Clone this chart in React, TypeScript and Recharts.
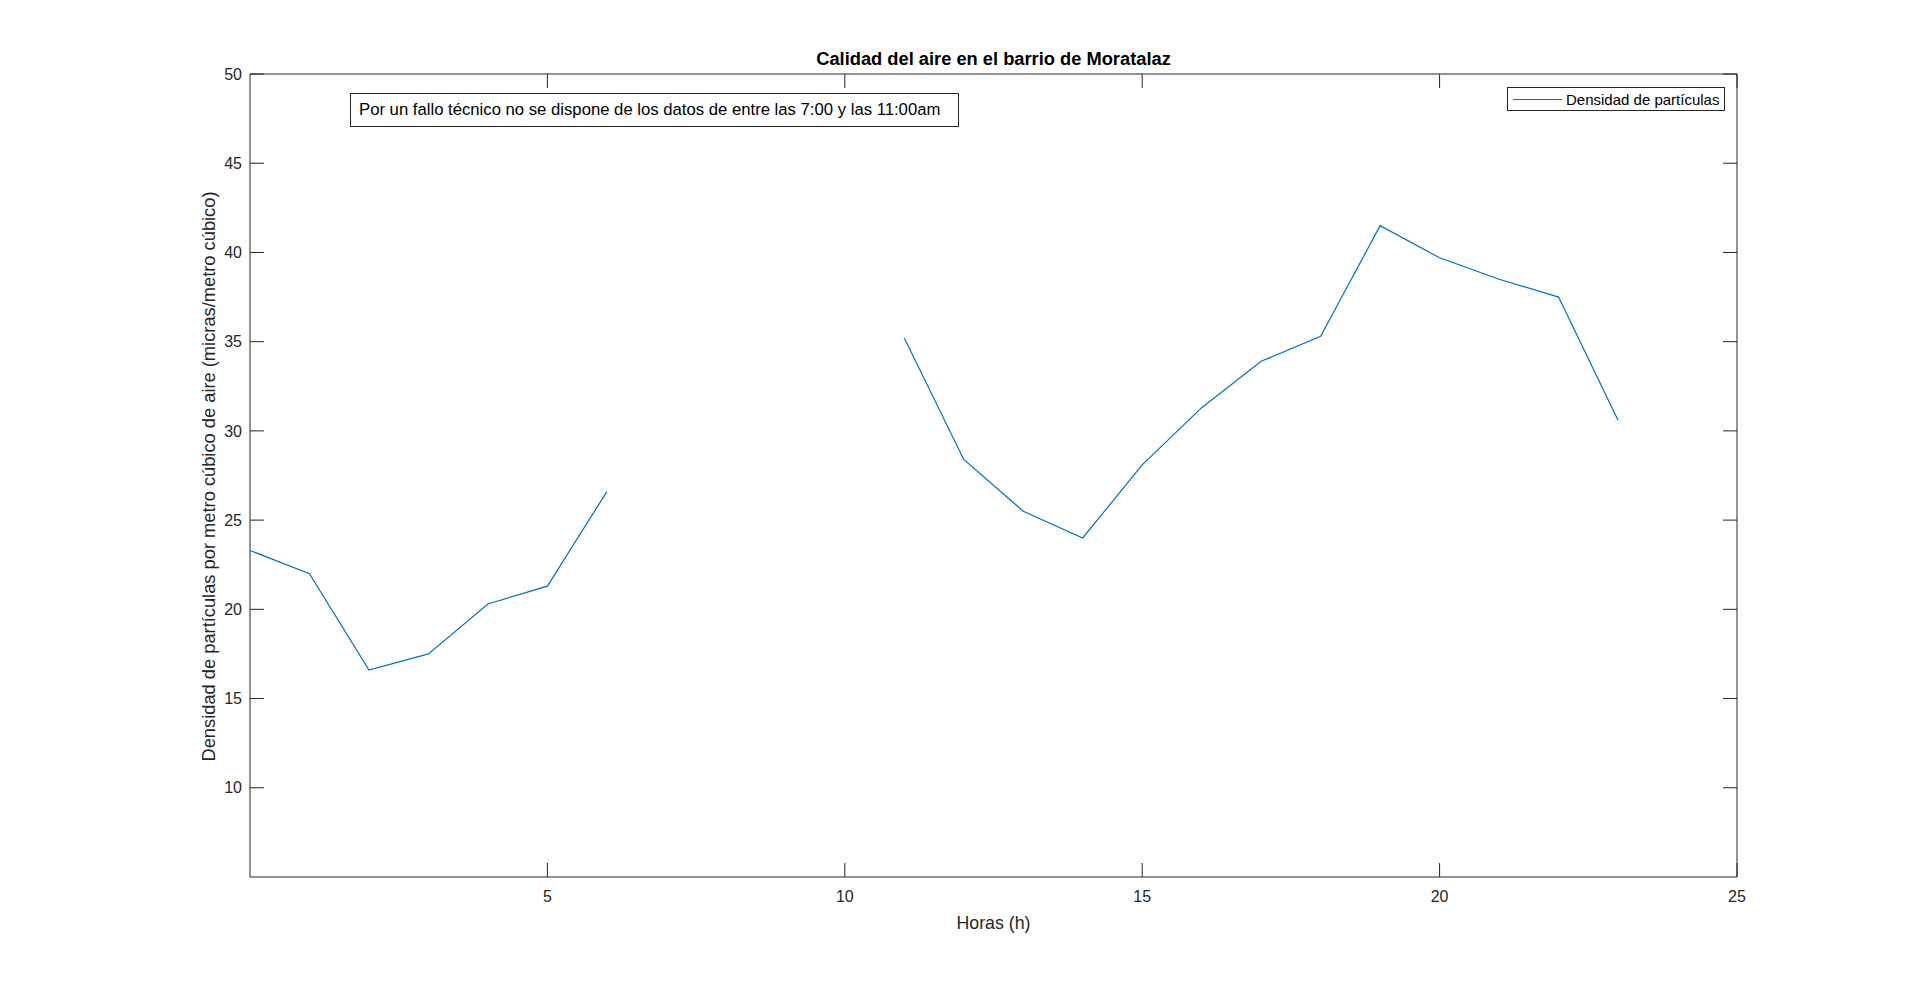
import { LineChart, Line, XAxis, YAxis, Legend } from 'recharts';

// horas del día y densidad medida (null = sin datos por el fallo técnico)
const hours = [0, 1, 2, 3, 4, 5, 6, 7, 8, 9, 10, 11, 12, 13, 14, 15, 16, 17, 18, 19, 20, 21, 22, 23];
const density = [
  23.3, 22.0, 16.6, 17.5, 20.3, 21.3, 26.6, null, null, null, null,
  35.2, 28.4, 25.5, 24.0, 28.1, 31.3, 33.9, 35.3, 41.5, 39.7, 38.5, 37.5, 30.6,
];
const xTicks = [5, 10, 15, 20, 25];
const yTicks = [10, 15, 20, 25, 30, 35, 40, 45, 50];

const title = 'Calidad del aire en el barrio de Moratalaz';
const xLabel = 'Horas (h)';
const yLabel = 'Densidad de partículas por metro cúbico de aire (micras/metro cúbico)';
const seriesName = 'Densidad de partículas';
const note = 'Por un fallo técnico no se dispone de los datos de entre las 7:00 y las 11:00am';

const data = hours.map((h, i) => ({ hora: h, densidad: density[i] }));

const AXIS = '#262626';
const BLUE = '#0072BD';

const emptyTick = () => <g />;

// etiqueta vertical del eje Y
const renderYLabel = (props: any) => {
  const { x, y, width, height } = props.viewBox;
  const cx = x + width / 2;
  const cy = y + height / 2 + 1;
  return (
    <text
      x={cx}
      y={cy}
      transform={`rotate(-90, ${cx}, ${cy})`}
      textAnchor="middle"
      dominantBaseline="central"
      fontSize={18.3}
      fill={AXIS}
    >
      {yLabel}
    </text>
  );
};

function LegendBox() {
  return (
    <div
      style={{
        boxSizing: 'border-box',
        width: 218,
        height: 24,
        border: `1px solid ${AXIS}`,
        background: '#fff',
        display: 'flex',
        alignItems: 'center',
        fontSize: 15,
        color: '#000',
      }}
    >
      <span style={{ display: 'inline-block', width: 49, height: 0, borderTop: `1px solid ${BLUE}`, marginLeft: 5, marginRight: 4 }} />
      <span>{seriesName}</span>
    </div>
  );
}

export default function App() {
  return (
    <div
      style={{
        position: 'absolute',
        left: 0,
        top: 0,
        width: 1920,
        height: 986,
        background: '#fff',
        fontFamily: '"Liberation Sans", Arial, Helvetica, sans-serif',
      }}
    >
      <div
        style={{
          position: 'absolute',
          left: 250,
          width: 1487,
          top: 49,
          textAlign: 'center',
          fontSize: 18.3,
          lineHeight: '20px',
          fontWeight: 'bold',
          color: '#000',
        }}
      >
        {title}
      </div>
      <LineChart width={1920} height={986} data={data} margin={{ top: 64, right: 173, bottom: 17, left: 166 }}>
        <XAxis
          dataKey="hora"
          type="number"
          domain={[0, 25]}
          ticks={xTicks}
          allowDataOverflow
          height={92}
          stroke={AXIS}
          tickSize={-14}
          tickMargin={28}
          tick={{ fontSize: 16, fill: AXIS }}
          label={{ value: xLabel, position: 'center', fontSize: 17.8, fill: AXIS }}
        />
        <XAxis
          xAxisId="top"
          orientation="top"
          dataKey="hora"
          type="number"
          domain={[0, 25]}
          ticks={xTicks}
          allowDataOverflow
          height={10}
          stroke={AXIS}
          tickSize={-14}
          tick={emptyTick}
        />
        <YAxis
          type="number"
          domain={[5, 50]}
          ticks={yTicks}
          allowDataOverflow
          width={84}
          stroke={AXIS}
          tickSize={-14}
          tickMargin={22}
          tick={{ fontSize: 16, fill: AXIS }}
          label={renderYLabel}
        />
        <YAxis
          yAxisId="right"
          orientation="right"
          type="number"
          domain={[5, 50]}
          ticks={yTicks}
          allowDataOverflow
          width={10}
          stroke={AXIS}
          tickSize={-14}
          tick={emptyTick}
        />
        <Legend
          layout="horizontal"
          verticalAlign="middle"
          align="center"
          content={() => <LegendBox />}
          wrapperStyle={{ left: 1507, top: 87, width: 218, height: 24 }}
        />
        <Line
          type="linear"
          dataKey="densidad"
          name={seriesName}
          stroke={BLUE}
          strokeWidth={1.2}
          dot={false}
          activeDot={false}
          connectNulls={false}
          isAnimationActive={false}
        />
      </LineChart>
      <div
        style={{
          position: 'absolute',
          boxSizing: 'border-box',
          left: 350,
          top: 93,
          width: 609,
          height: 34,
          border: `1px solid ${AXIS}`,
          background: '#fff',
          paddingLeft: 8,
          fontSize: 16.7,
          lineHeight: '32px',
          color: '#000',
          whiteSpace: 'nowrap',
        }}
      >
        {note}
      </div>
    </div>
  );
}
